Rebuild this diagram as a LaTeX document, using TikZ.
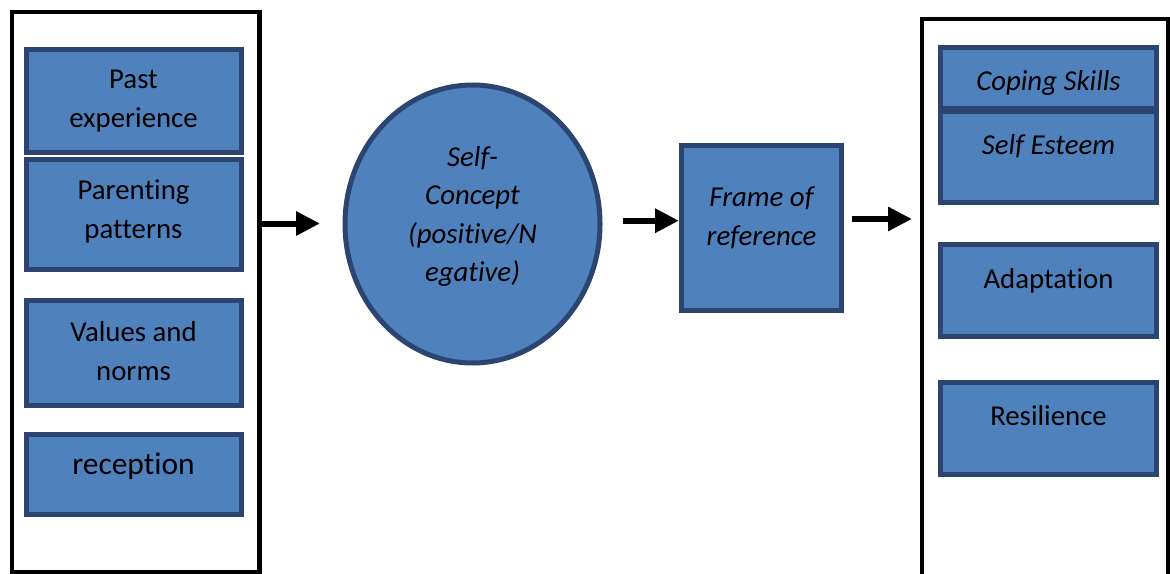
\documentclass[tikz,border=0pt]{standalone}
\usepackage{fontspec}
\setmainfont{Carlito}[Ligatures=NoCommon, Contextuals=NoAlternate]
\usepackage{tikz}
\usetikzlibrary{shapes.geometric,arrows.meta}

\definecolor{boxfill}{HTML}{4F81BD}
\definecolor{boxline}{HTML}{2B4570}

% text block lifted inside its box (lift in pt, math axis taken off)
\newcommand{\lifted}[2]{\raisebox{\dimexpr#1-5.4pt\relax}[0pt][0pt]{\begin{tabular}{@{}c@{}}#2\end{tabular}}}

\begin{document}
\begin{tikzpicture}[x=0.75pt, y=-0.75pt,
    panel/.style={draw=black, line width=3.2pt, fill=white, rectangle, inner sep=0pt},
    factor/.style={draw=boxline, fill=boxfill, line width=3.75pt, rectangle, inner sep=0pt,
        font=\fontsize{21.6}{29.25}\selectfont},
    flow/.style={line width=4.5pt, -{Triangle[length=18pt,width=17.25pt]}}]
\useasboundingbox (0,0) rectangle (1170,574);

% outer panels
\node[panel, minimum width=185.6pt, minimum height=420pt] (LeftPanel) at (135.75,292) {};
\node[panel, minimum width=184.5pt, minimum height=424.5pt] (RightPanel) at (1045,302) {};

% left column
\node[factor, minimum width=161.25pt, minimum height=76.9pt] (PastExperience) at (133.5,100.75)
    {\lifted{0.75pt}{Past\\experience}};
\node[factor, minimum width=161.25pt, minimum height=82.5pt] (ParentingPatterns) at (133.5,214.5)
    {\lifted{3pt}{Parenting\\patterns}};
\node[factor, minimum width=161.25pt, minimum height=78.75pt] (ValuesNorms) at (133.5,353)
    {\lifted{0pt}{Values and\\norms}};
\node[factor, minimum width=161.25pt, minimum height=60pt,
    font=\fontsize{23.6}{29.25}\selectfont] (Reception) at (133.5,474.5)
    {\lifted{5pt}{reception}};

% middle
\node[factor, ellipse, minimum width=191.25pt, minimum height=208.5pt,
    font=\fontsize{21.6}{28.7}\selectfont\itshape] (SelfConcept) at (472.5,224)
    {\lifted{6pt}{Self-\\Concept\\(positive/N\\egative)}};
\node[factor, minimum width=120pt, minimum height=123.75pt,
    font=\fontsize{21.6}{29.25}\selectfont\itshape] (FrameRef) at (761.5,228)
    {\lifted{7.9pt}{Frame of\\reference}};

% right column
\node[factor, minimum width=162pt, minimum height=45.75pt,
    font=\fontsize{21.6}{29.25}\selectfont\itshape] (CopingSkills) at (1048.5,78)
    {\lifted{-3pt}{Coping Skills}};
\node[factor, minimum width=162pt, minimum height=68.6pt,
    font=\fontsize{21.6}{29.25}\selectfont\itshape] (SelfEsteem) at (1048.5,156.75)
    {\lifted{8pt}{Self Esteem}};
\node[factor, minimum width=162pt, minimum height=69pt] (Adaptation) at (1048.5,290.5)
    {\lifted{7.9pt}{Adaptation}};
\node[factor, minimum width=162pt, minimum height=69pt] (Resilience) at (1048.5,428.5)
    {\lifted{8.25pt}{Resilience}};

% arrows
\coordinate (FlowOneEnd) at (320,223.5);
\coordinate (FlowTwoStart) at (623,220.7);
\coordinate (FlowThreeStart) at (852,219);
\coordinate (FlowThreeEnd) at (912,219);
\draw[flow] (LeftPanel.east |- FlowOneEnd) -- (FlowOneEnd);
\draw[flow] (FlowTwoStart) -- (FrameRef.west |- FlowTwoStart);
\draw[flow] (FlowThreeStart) -- (FlowThreeEnd);
\end{tikzpicture}
\end{document}
